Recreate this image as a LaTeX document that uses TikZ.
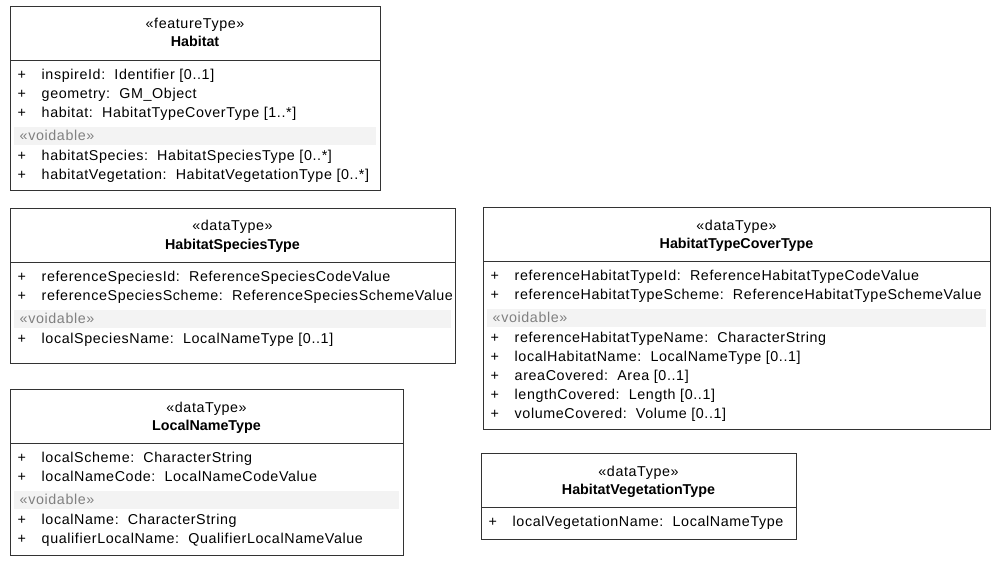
\documentclass[tikz,border=0pt]{standalone}
\usepackage{fontspec}
\setmainfont{Liberation Sans}
\newfontfamily\spacedfont{Liberation Sans}[LetterSpace=4.3]
\usetikzlibrary{positioning}

\definecolor{voidgray}{RGB}{128,128,128}
\definecolor{bandfill}{RGB}{243,243,243}
\newcommand{\umlsize}{\fontsize{14.3}{17}\selectfont}

\tikzset{
  classbox/.style={draw=black!80, line width=0.9pt, anchor=north west, inner sep=0pt},
  sepline/.style={draw=black!80, line width=0.9pt},
  band/.style={fill=bandfill, draw=none, anchor=north west, inner sep=0pt},
  stereo/.style={anchor=base, inner sep=0pt, font=\umlsize\spacedfont},
  cname/.style={anchor=base, inner sep=0pt, font=\umlsize\bfseries},
  plus/.style={anchor=base west, inner sep=0pt, font=\umlsize\spacedfont},
  attr/.style={anchor=base west, inner sep=0pt, font=\umlsize\spacedfont},
  voidtag/.style={anchor=base west, inner sep=0pt, font=\umlsize\spacedfont, text=voidgray},
}

\begin{document}
\begin{tikzpicture}[x=1pt,y=-1pt]
\useasboundingbox (0,0) rectangle (1008,561);

% Habitat
\node[classbox, minimum width=370pt, minimum height=184pt] (habitat) at (10,6) {};
\draw[sepline] ([yshift=-54pt]habitat.north west) -- ([yshift=-54pt]habitat.north east);
\node[stereo] (habitat-st) at (195,29) {«featureType»};
\node[cname] (habitat-nm) at (195,47) {Habitat};
\foreach \txt [count=\i] in {{inspireId:\ \ Identifier [0..1]}, {geometry:\ \ GM\_Object}, {habitat:\ \ HabitatTypeCoverType [1..*]}} {
  \node[plus] (habitat-p\i) at (17.5,60.5+19*\i) {+};
  \node[attr] (habitat-a\i) at (41.5,60.5+19*\i) {\txt};
}
\node[band, minimum width=362pt, minimum height=18pt] (habitat-band) at (14,127) {};
\node[voidtag] (habitat-void) at (19.5,140.5) {«voidable»};
\foreach \txt [count=\i] in {{habitatSpecies:\ \ HabitatSpeciesType [0..*]}, {habitatVegetation:\ \ HabitatVegetationType [0..*]}} {
  \node[plus] (habitat-q\i) at (17.5,141.5+19*\i) {+};
  \node[attr] (habitat-b\i) at (41.5,141.5+19*\i) {\txt};
}

% HabitatSpeciesType
\node[classbox, minimum width=445pt, minimum height=155pt] (species) at (10,208) {};
\draw[sepline] ([yshift=-54pt]species.north west) -- ([yshift=-54pt]species.north east);
\node[stereo] (species-st) at (232.5,231) {«dataType»};
\node[cname] (species-nm) at (232.5,249) {HabitatSpeciesType};
\foreach \txt [count=\i] in {{referenceSpeciesId:\ \ ReferenceSpeciesCodeValue}, {referenceSpeciesScheme:\ \ ReferenceSpeciesSchemeValue}} {
  \node[plus] (species-p\i) at (17.5,262.5+19*\i) {+};
  \node[attr] (species-a\i) at (41.5,262.5+19*\i) {\txt};
}
\node[band, minimum width=437pt, minimum height=18pt] (species-band) at (14,310) {};
\node[voidtag] (species-void) at (19.5,323.5) {«voidable»};
\node[plus] (species-q1) at (17.5,343.5) {+};
\node[attr] (species-b1) at (41.5,343.5) {localSpeciesName:\ \ LocalNameType [0..1]};

% HabitatTypeCoverType
\node[classbox, minimum width=507pt, minimum height=222pt] (cover) at (483,207) {};
\draw[sepline] ([yshift=-54pt]cover.north west) -- ([yshift=-54pt]cover.north east);
\node[stereo] (cover-st) at (736.5,230) {«dataType»};
\node[cname] (cover-nm) at (736.5,248) {HabitatTypeCoverType};
\foreach \txt [count=\i] in {{referenceHabitatTypeId:\ \ ReferenceHabitatTypeCodeValue}, {referenceHabitatTypeScheme:\ \ ReferenceHabitatTypeSchemeValue}} {
  \node[plus] (cover-p\i) at (490.5,261.5+19*\i) {+};
  \node[attr] (cover-a\i) at (514.5,261.5+19*\i) {\txt};
}
\node[band, minimum width=499pt, minimum height=18pt] (cover-band) at (487,309) {};
\node[voidtag] (cover-void) at (492.5,322.5) {«voidable»};
\foreach \txt [count=\i] in {{referenceHabitatTypeName:\ \ CharacterString}, {localHabitatName:\ \ LocalNameType [0..1]}, {areaCovered:\ \ Area [0..1]}, {lengthCovered:\ \ Length [0..1]}, {volumeCovered:\ \ Volume [0..1]}} {
  \node[plus] (cover-q\i) at (490.5,323.5+19*\i) {+};
  \node[attr] (cover-b\i) at (514.5,323.5+19*\i) {\txt};
}

% LocalNameType
\node[classbox, minimum width=393pt, minimum height=166pt] (localname) at (10,389) {};
\draw[sepline] ([yshift=-54pt]localname.north west) -- ([yshift=-54pt]localname.north east);
\node[stereo] (localname-st) at (206.5,412) {«dataType»};
\node[cname] (localname-nm) at (206.5,430) {LocalNameType};
\foreach \txt [count=\i] in {{localScheme:\ \ CharacterString}, {localNameCode:\ \ LocalNameCodeValue}} {
  \node[plus] (localname-p\i) at (17.5,443.5+19*\i) {+};
  \node[attr] (localname-a\i) at (41.5,443.5+19*\i) {\txt};
}
\node[band, minimum width=385pt, minimum height=18pt] (localname-band) at (14,491) {};
\node[voidtag] (localname-void) at (19.5,504.5) {«voidable»};
\foreach \txt [count=\i] in {{localName:\ \ CharacterString}, {qualifierLocalName:\ \ QualifierLocalNameValue}} {
  \node[plus] (localname-q\i) at (17.5,505.5+19*\i) {+};
  \node[attr] (localname-b\i) at (41.5,505.5+19*\i) {\txt};
}

% HabitatVegetationType
\node[classbox, minimum width=315pt, minimum height=86pt] (vegetation) at (481,453) {};
\draw[sepline] ([yshift=-54pt]vegetation.north west) -- ([yshift=-54pt]vegetation.north east);
\node[stereo] (vegetation-st) at (638.5,476) {«dataType»};
\node[cname] (vegetation-nm) at (638.5,494) {HabitatVegetationType};
\node[plus] (vegetation-p1) at (488.5,526.5) {+};
\node[attr] (vegetation-a1) at (512.5,526.5) {localVegetationName:\ \ LocalNameType};

\end{tikzpicture}
\end{document}
